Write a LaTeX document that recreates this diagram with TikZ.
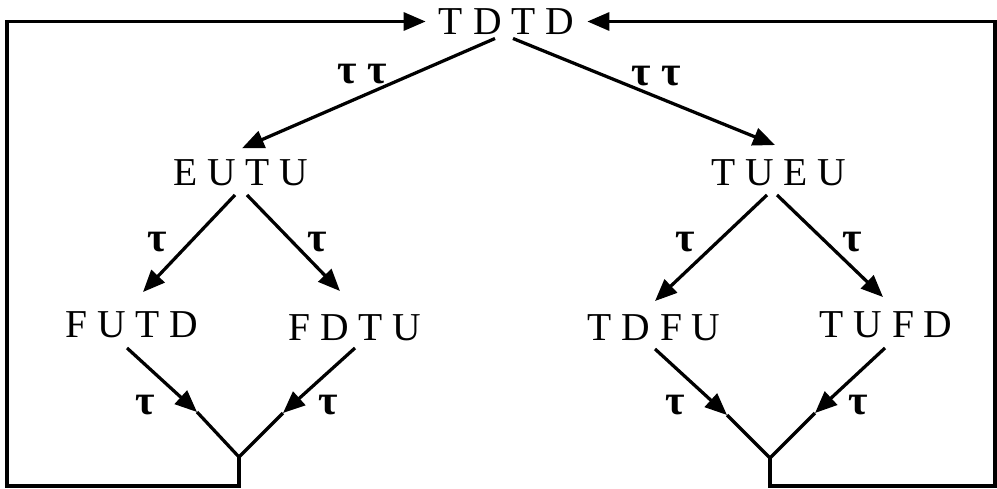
\documentclass[tikz,border=0pt]{standalone}
\usepackage{fontspec}
\usepackage{tikz}
\usetikzlibrary{arrows.meta, calc}
\newfontfamily\statefont[WordSpace=0.65]{Liberation Serif}
\newfontfamily\taufont{Liberation Serif}
\tikzstyle{state} = [inner sep=0pt, 
text height=0.525cm, 
text depth=0pt, 
font=\statefont\fontsize{22.5}{26}\selectfont]
\tikzstyle{tau} = [inner sep=0pt, 
font=\taufont\bfseries\fontsize{24}{28}\selectfont]
\tikzstyle{arrow} = [line width=0.065cm, -{Triangle[length=0.44cm, width=0.36cm]}]
\tikzstyle{line} = [line width=0.065cm]

\begin{document}
\begin{tikzpicture}[x=0.02cm, y=-0.02cm]
\useasboundingbox (0,0) rectangle (997,488);

\node (tdtd) [state] at (506.5,21.5) {T D T D};
\node (eutu) [state] at (241,172.5) {E U T U};
\node (tueu) [state] at (779,172.5) {T U E U};
\node (futd) [state] at (132,324.5) {F U T D};
\node (fdtu) [state] at (355,327.5) {F D T U};
\node (tdfu) [state] at (654,327.5) {T D F U};
\node (tufd) [state] at (886,324.5) {T U F D};

\node (tt1) [tau] at (362,74) {τ τ};
\node (tt2) [tau] at (656,76) {τ τ};
\node (t1) [tau] at (157,242) {τ};
\node (t2) [tau] at (317,242) {τ};
\node (t3) [tau] at (685,242) {τ};
\node (t4) [tau] at (852,242) {τ};
\node (t5) [tau] at (145,405) {τ};
\node (t6) [tau] at (328,405) {τ};
\node (t7) [tau] at (675,405) {τ};
\node (t8) [tau] at (858,405) {τ};

\coordinate (inA) at (197,412);
\coordinate (inB) at (283,413);
\coordinate (inC) at (727,415);
\coordinate (inD) at (815,413);
\coordinate (joinL) at (239,457);
\coordinate (joinR) at (770,458);
\coordinate (cornerL) at (7,486);
\coordinate (cornerR) at (995,486);

\draw [arrow] ($(tdtd.south)+(-11.5,3.5)$) -- ($(eutu.north)+(1,-10.75)$);
\draw [arrow] ($(tdtd.south)+(6.5,3.5)$) -- ($(tueu.north)+(-4,-14)$);
\draw [arrow] ($(eutu.south)+(-6,9)$) -- ($(futd.north)+(11,-19)$);
\draw [arrow] ($(eutu.south)+(6,9)$) -- ($(fdtu.north)+(-15,-23)$);
\draw [arrow] ($(tueu.south)+(-12,9)$) -- ($(tdfu.north)+(1,-13)$);
\draw [arrow] ($(tueu.south)+(-2,9)$) -- ($(tufd.north)+(-3,-14)$);

\draw [arrow] ($(futd.south)+(-5,10)$) -- (inA);
\draw [arrow] ($(fdtu.south)+(0,7)$) -- (inB);
\draw [arrow] ($(tdfu.south)+(1,8)$) -- (inC);
\draw [arrow] ($(tufd.south)+(-1,10)$) -- (inD);
\draw [line] (inA) -- (joinL) -- (inB);
\draw [line] (inC) -- (joinR) -- (inD);

% back to the start
\draw [arrow, shorten >=0.26cm] (joinL) |- (cornerL) |- (tdtd.west);
\draw [arrow, shorten >=0.26cm] (joinR) |- (cornerR) |- (tdtd.east);

\end{tikzpicture}
\end{document}
